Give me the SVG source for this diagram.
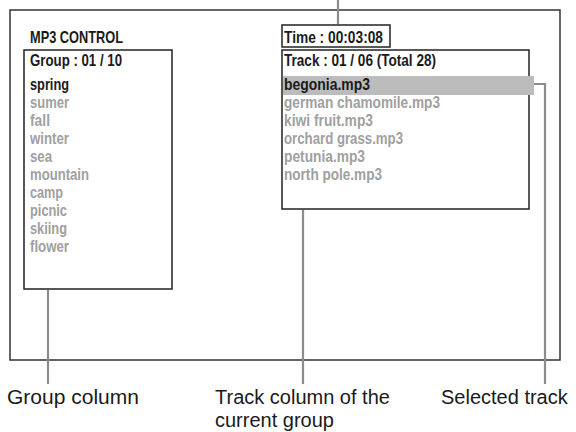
<svg xmlns="http://www.w3.org/2000/svg" width="576" height="432" viewBox="0 0 576 432">
<style>
.box{fill:none;stroke:#222;stroke-width:1.5}
.lead{fill:none;stroke:#8c8c8c;stroke-width:2.2}
.t{font-family:"Liberation Sans",Arial,sans-serif;font-weight:bold;font-size:16.5px}
.hd{fill:#1a1a1a}
.g{fill:#a0a0a0}
.lbl{font-family:"Liberation Sans",Arial,sans-serif;font-size:20px;fill:#1a1a1a}
</style>
<rect width="576" height="432" fill="#fff"/>
<g id="screen">
<rect x="10" y="10" width="550" height="350" fill="none" stroke="#333" stroke-width="1.5"/>
<text class="t hd" x="30" y="43" textLength="93" lengthAdjust="spacingAndGlyphs">MP3 CONTROL</text>
</g>
<g id="time-box">
<rect class="box" x="282" y="25" width="108" height="22"/>
<text class="t hd" x="284" y="43" textLength="99" lengthAdjust="spacingAndGlyphs">Time : 00:03:08</text>
</g>
<g id="group-column">
<rect class="box" x="24" y="50" width="148" height="239"/>
<text class="t hd" x="30" y="66" textLength="92" lengthAdjust="spacingAndGlyphs">Group : 01 / 10</text>
<text class="t hd" x="30" y="90" textLength="39" lengthAdjust="spacingAndGlyphs">spring</text>
<text class="t g" x="30" y="108" textLength="39" lengthAdjust="spacingAndGlyphs">sumer</text>
<text class="t g" x="30" y="126" textLength="20" lengthAdjust="spacingAndGlyphs">fall</text>
<text class="t g" x="30" y="144" textLength="39" lengthAdjust="spacingAndGlyphs">winter</text>
<text class="t g" x="30" y="162" textLength="22" lengthAdjust="spacingAndGlyphs">sea</text>
<text class="t g" x="30" y="180" textLength="59" lengthAdjust="spacingAndGlyphs">mountain</text>
<text class="t g" x="30" y="198" textLength="33" lengthAdjust="spacingAndGlyphs">camp</text>
<text class="t g" x="30" y="216" textLength="37" lengthAdjust="spacingAndGlyphs">picnic</text>
<text class="t g" x="30" y="234" textLength="37" lengthAdjust="spacingAndGlyphs">skiing</text>
<text class="t g" x="30" y="252" textLength="39" lengthAdjust="spacingAndGlyphs">flower</text>
</g>
<g id="track-column">
<rect class="box" x="282" y="50" width="247" height="159"/>
<text class="t hd" x="284" y="66" textLength="152" lengthAdjust="spacingAndGlyphs">Track : 01 / 06 (Total 28)</text>
<rect id="selected-bar" x="283" y="76" width="251" height="19" fill="#bcbcbc"/>
<text class="t hd" x="284" y="90" textLength="86" lengthAdjust="spacingAndGlyphs">begonia.mp3</text>
<text class="t g" x="284" y="108" textLength="156" lengthAdjust="spacingAndGlyphs">german chamomile.mp3</text>
<text class="t g" x="284" y="126" textLength="89" lengthAdjust="spacingAndGlyphs">kiwi fruit.mp3</text>
<text class="t g" x="284" y="144" textLength="119" lengthAdjust="spacingAndGlyphs">orchard grass.mp3</text>
<text class="t g" x="284" y="162" textLength="81" lengthAdjust="spacingAndGlyphs">petunia.mp3</text>
<text class="t g" x="284" y="180" textLength="98" lengthAdjust="spacingAndGlyphs">north pole.mp3</text>
</g>
<g id="connectors">
<line class="lead" x1="338" y1="0" x2="338" y2="24"/>
<line class="lead" x1="48" y1="290" x2="48" y2="384"/>
<line class="lead" x1="303" y1="210" x2="303" y2="384"/>
<polyline class="lead" points="534,84 545,84 545,384"/>
</g>
<g id="labels">
<text class="lbl" x="7" y="404" textLength="132" lengthAdjust="spacingAndGlyphs">Group column</text>
<text class="lbl" x="215" y="404">Track column of the</text>
<text class="lbl" x="215" y="427">current group</text>
<text class="lbl" x="441" y="404">Selected track</text>
</g>
</svg>
